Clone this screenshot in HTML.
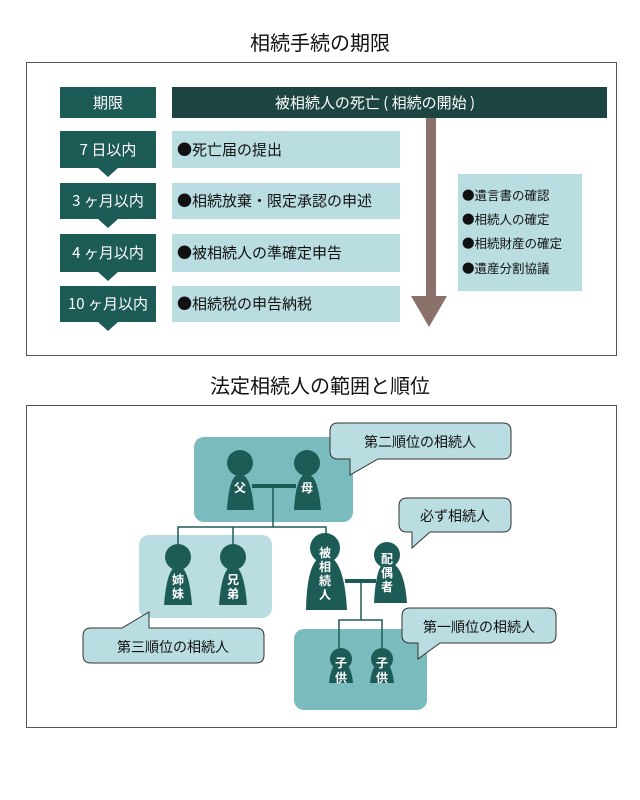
<!DOCTYPE html>
<html><head><meta charset="utf-8"><style>
html,body{margin:0;padding:0;background:#fff;}
svg{display:block;font-family:"Noto Sans CJK JP","Liberation Sans",sans-serif;}
</style></head><body>
<svg width="640" height="800" viewBox="0 0 640 800" xmlns="http://www.w3.org/2000/svg">
<text x="320" y="50" font-size="20" text-anchor="middle" fill="#111">相続手続の期限</text>
<rect x="26.5" y="62.5" width="590" height="293" fill="#fff" stroke="#555" stroke-width="1"/>
<rect x="60" y="87" width="96" height="31" fill="#1d5b57"/>
<text x="108" y="108" font-size="15" fill="#fff" text-anchor="middle">期限</text>
<rect x="172" y="87" width="435" height="31" fill="#1c4541"/>
<text x="375" y="108" font-size="15" fill="#fff" text-anchor="middle">被相続人の死亡 ( 相続の開始 )</text>
<rect x="426" y="118" width="10" height="180" fill="#8a716a"/>
<polygon points="411,296 447,296 429,327" fill="#8a716a"/>
<g font-size="15" fill="#fff" text-anchor="middle">
<polygon points="60,131 156,131 156,168 118,168 108,177 98,168 60,168" fill="#1d5b57"/>
<text x="108" y="155">7 日以内</text>
<polygon points="60,183 156,183 156,219 118,219 108,228 98,219 60,219" fill="#1d5b57"/>
<text x="108" y="206">3 ヶ月以内</text>
<polygon points="60,234 156,234 156,272 118,272 108,281 98,272 60,272" fill="#1d5b57"/>
<text x="108" y="258">4 ヶ月以内</text>
<polygon points="60,286 156,286 156,322 118,322 108,331 98,322 60,322" fill="#1d5b57"/>
<text x="108" y="309">10 ヶ月以内</text>
</g>
<g font-size="15" fill="#111">
<rect x="172" y="131" width="228" height="37" fill="#b9dde0"/>
<text x="177" y="155">●死亡届の提出</text>
<rect x="172" y="183" width="228" height="36" fill="#b9dde0"/>
<text x="177" y="206">●相続放棄・限定承認の申述</text>
<rect x="172" y="234" width="228" height="38" fill="#b9dde0"/>
<text x="177" y="258">●被相続人の準確定申告</text>
<rect x="172" y="286" width="228" height="36" fill="#b9dde0"/>
<text x="177" y="309">●相続税の申告納税</text>
</g>
<rect x="458" y="174" width="124" height="117" fill="#b9dde0"/>
<g font-size="12.5" fill="#111">
<text x="462" y="200">●遺言書の確認</text>
<text x="462" y="224">●相続人の確定</text>
<text x="462" y="248">●相続財産の確定</text>
<text x="462" y="273">●遺産分割協議</text>
</g>

<text x="320" y="393" font-size="20" text-anchor="middle" fill="#111">法定相続人の範囲と順位</text>
<rect x="26.5" y="405.5" width="590" height="322" fill="#fff" stroke="#555" stroke-width="1"/>
<rect x="194" y="437" width="159" height="85" rx="10" fill="#7abcbd"/>
<rect x="139" y="535" width="133" height="83" rx="10" fill="#b9dde0"/>
<rect x="294" y="629" width="133" height="81" rx="10" fill="#7abcbd"/>
<g stroke="#1d5b57" stroke-width="1.5" fill="none">
<line x1="273" y1="486" x2="273" y2="527"/>
<polyline points="178,545 178,527 326,527 326,537"/>
<line x1="233" y1="527" x2="233" y2="545"/>
<line x1="361" y1="581" x2="361" y2="620"/>
<polyline points="339,650 339,620 382,620 382,650"/>
</g>
<g stroke="#1d5b57" stroke-width="4">
<line x1="252" y1="486" x2="296" y2="486"/>
<line x1="345" y1="581" x2="376" y2="581"/>
</g>
<g fill="#1d5b57">
<circle cx="240" cy="463" r="13"/><path d="M227,510 L254,510 Q251,474 240,474 Q229,474 227,510Z"/>
<circle cx="307" cy="463" r="13"/><path d="M294,510 L321,510 Q318,474 307,474 Q296,474 294,510Z"/>
<circle cx="178" cy="557" r="13"/><path d="M164,605 L192,605 Q189,566 178,566 Q167,566 164,605Z"/>
<circle cx="233" cy="557" r="13"/><path d="M219,605 L247,605 Q244,566 233,566 Q222,566 219,605Z"/>
<circle cx="325" cy="548" r="15"/><path d="M306,610 L347,610 Q344,556 325,556 Q307,556 306,610Z"/>
<circle cx="387" cy="555" r="13"/><path d="M374,603 L407,603 Q404,562 387,562 Q376,562 374,603Z"/>
<circle cx="341" cy="659" r="11"/><path d="M329,683 L353,683 Q351,662 341,662 Q331,662 329,683Z"/>
<circle cx="382" cy="659" r="11"/><path d="M370,683 L394,683 Q392,662 382,662 Q372,662 370,683Z"/>
</g>
<g fill="#fff" font-size="12" font-weight="bold" text-anchor="middle">
<text x="240" y="492">父</text>
<text x="307" y="492">母</text>
<text x="178" y="584">姉</text><text x="178" y="598">妹</text>
<text x="233" y="584">兄</text><text x="233" y="598">弟</text>
<text x="325" y="557">被</text><text x="325" y="571">相</text><text x="325" y="585">続</text><text x="325" y="599">人</text>
<text x="387" y="563">配</text><text x="387" y="577">偶</text><text x="387" y="591">者</text>
<text x="341" y="667">子</text><text x="341" y="682">供</text>
<text x="382" y="667">子</text><text x="382" y="682">供</text>
</g>
<g fill="#b9dde0" stroke="#333" stroke-width="1">
<path d="M338,423 H503 Q511,423 511,431 V451 Q511,459 503,459 H378 L350,475 L350,459 H338 Q330,459 330,451 V431 Q330,423 338,423Z"/>
<path d="M407,498 H503 Q511,498 511,506 V524 Q511,532 503,532 H430 L412,548 L412,532 H407 Q399,532 399,524 V506 Q399,498 407,498Z"/>
<path d="M410,608 H548 Q556,608 556,616 V635 Q556,643 548,643 H440 L418,659 L418,643 H410 Q402,643 402,635 V616 Q402,608 410,608Z"/>
<path d="M91,628 H122 L149,612 L149,628 H256 Q264,628 264,636 V655 Q264,663 256,663 H91 Q83,663 83,655 V636 Q83,628 91,628Z"/>
</g>
<g font-size="14" fill="#111" text-anchor="middle">
<text x="420" y="447">第二順位の相続人</text>
<text x="455" y="521">必ず相続人</text>
<text x="479" y="632">第一順位の相続人</text>
<text x="173" y="652">第三順位の相続人</text>
</g>
</svg>
</body></html>
